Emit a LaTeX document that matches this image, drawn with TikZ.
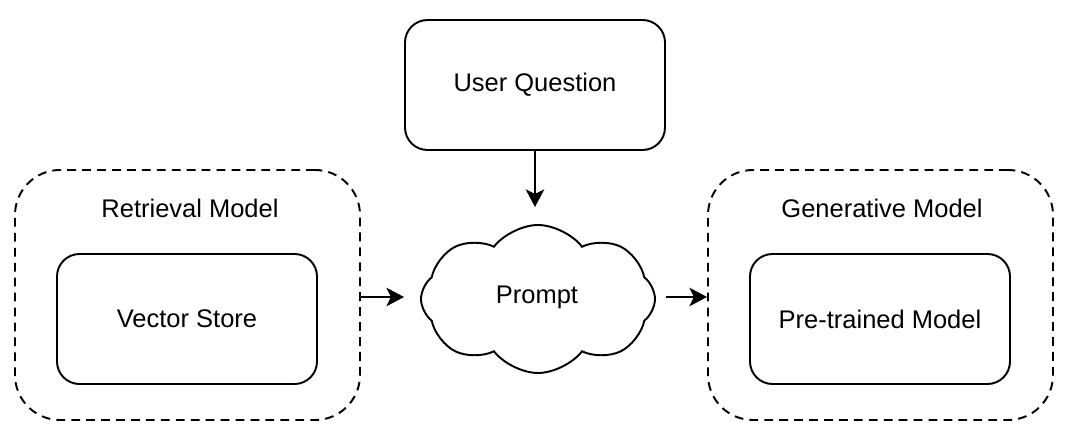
\documentclass[tikz,border=0pt]{standalone}
\usepackage{fontspec}
\setmainfont{Liberation Sans}
\usetikzlibrary{shapes.symbols, arrows.meta}
\usetikzlibrary{positioning}

\begin{document}
\begin{tikzpicture}[
     font=\fontsize{14.5}{17}\selectfont,
     line width=1.1pt,
     block/.style={draw, rounded corners=0.45cm, minimum width=5.2cm, minimum height=2.6cm},
     group/.style={draw, dashed, dash pattern=on 5pt off 3.5pt, rounded corners=0.9cm, minimum width=6.9cm, minimum height=5cm},
     arrow/.style={-{Stealth[length=10pt, width=10.5pt, inset=2.5pt]}}]
     \useasboundingbox (0cm, 0cm) rectangle (21.64cm, 8.92cm);
     \node[block] (q) at (10.70cm, 7.22cm) {User Question};
     \node[group] (r) at ( 3.75cm, 3.02cm) {};
     \node[group] (g) at (17.61cm, 3.02cm) {};
     \node[block] (v) at ( 3.74cm, 2.54cm) {Vector Store};
     \node[block] (m) at (17.60cm, 2.54cm) {Pre-trained Model};
     \node (rl) at ( 3.80cm, 4.76cm) {Retrieval Model};
     \node (gl) at (17.64cm, 4.76cm) {Generative Model};
     \node[draw, cloud, cloud puffs=8, cloud puff arc=105, aspect=1.6, minimum width=4.68cm, minimum height=2.96cm, shape border rotate=12] (p) at (10.76cm, 2.94cm) {};
     \node (pt) at (10.74cm, 2.98cm) {Prompt};

     \draw[arrow, shorten >=0.34cm] (q) -- (q |- p.north);
     \draw[arrow, shorten >=0.32cm] (r.east |- pt) -- (p.west |- pt);
     \draw[arrow, shorten <=0.2cm] (p.east |- pt) -- (g.west |- pt);
\end{tikzpicture}
\end{document}
